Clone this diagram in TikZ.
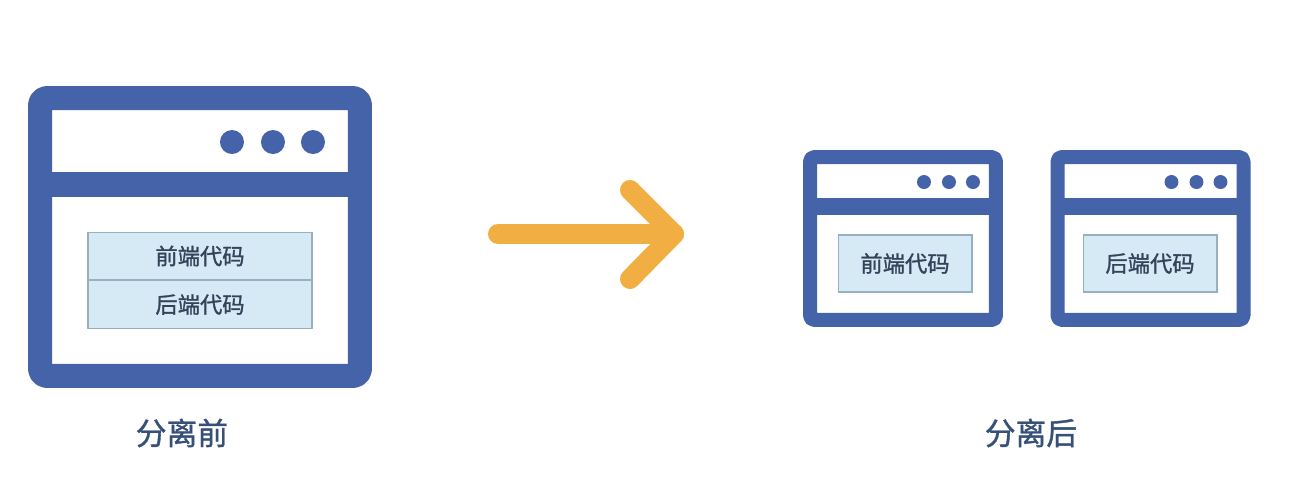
\documentclass[tikz,border=0pt]{standalone}
\usepackage{fontspec}
\newfontfamily\cjk[FakeBold=1.2]{Noto Sans CJK SC}
\usetikzlibrary{calc}
\definecolor{winblue}{RGB}{68,99,168}
\definecolor{codefill}{RGB}{214,234,245}
\definecolor{codeline}{RGB}{150,176,192}
\definecolor{codetext}{RGB}{52,66,90}
\definecolor{labeltext}{RGB}{55,80,120}
\definecolor{arroworange}{RGB}{241,174,66}
\tikzset{
	window/.style={draw=winblue, fill=white, inner sep=0pt, line join=round},
	bigwin/.style={window, line width=0.48cm, rounded corners=4pt, minimum width=6.4cm, minimum height=5.56cm},
	smallwin/.style={window, line width=0.28cm, rounded corners=2.5pt, minimum width=3.72cm, minimum height=3.26cm},
	codebox/.style={draw=codeline, fill=codefill, line width=0.6pt, inner sep=0pt, text=codetext, font=\cjk\fontsize{12.7}{15}\selectfont},
	caption/.style={text=labeltext, font=\cjk\fontsize{17.5}{20}\selectfont},
	bigarrow/.style={draw=arroworange, line width=0.4cm, line cap=round, line join=round}
}

\begin{document}
\begin{tikzpicture}[x=0.02cm, y=-0.02cm]
		%%%%% START %%%%%
		\useasboundingbox (0, 0) rectangle (1297, 499);
		
		% before: one window
		\node[bigwin] (winbefore) at (200, 237) {};
		\draw[winblue, line width=0.5cm] ($(winbefore.north west)+(12, 98.5)$) -- ($(winbefore.north east)+(-12, 98.5)$);
		\foreach \dx in {140, 99, 59}
			\fill[winblue] ($(winbefore.north east)+(-\dx, 56)$) circle (0.24cm);
		\node[codebox, minimum width=4.48cm, minimum height=0.95cm] (frontbefore) at (200, 256) {前端代码};
		\node[codebox, minimum width=4.48cm, minimum height=0.95cm, anchor=north] (backbefore) at (frontbefore.south) {后端代码};
		\node[caption] (before) at (182, 433) {分离前};
		
		% arrow
		\coordinate (tail) at (498, 234);
		\coordinate (tip) at (674, 234);
		\coordinate (headup) at (630, 190);
		\coordinate (headdown) at (630, 279);
		\draw[bigarrow] (tail) -- (tip);
		\draw[bigarrow] (headup) -- (tip) -- (headdown);
		
		% after: two windows
		\node[smallwin] (winfront) at (903, 238.5) {};
		\node[smallwin] (winback) at (1150.5, 238.5) {};
		\foreach \w in {winfront, winback} {
			\draw[winblue, line width=0.34cm] ($(\w.north west)+(7, 56.5)$) -- ($(\w.north east)+(-7, 56.5)$);
			\foreach \dx in {79, 54, 30}
				\fill[winblue] ($(\w.north east)+(-\dx, 32)$) circle (0.14cm);
		}
		\node[codebox, minimum width=2.68cm, minimum height=1.14cm] (front) at (905, 263.5) {前端代码};
		\node[codebox, minimum width=2.68cm, minimum height=1.14cm] (back) at (1150, 263.5) {后端代码};
		\node[caption] (after) at (1031, 433) {分离后};
		%%%%% END %%%%%
	\end{tikzpicture}
\end{document}
